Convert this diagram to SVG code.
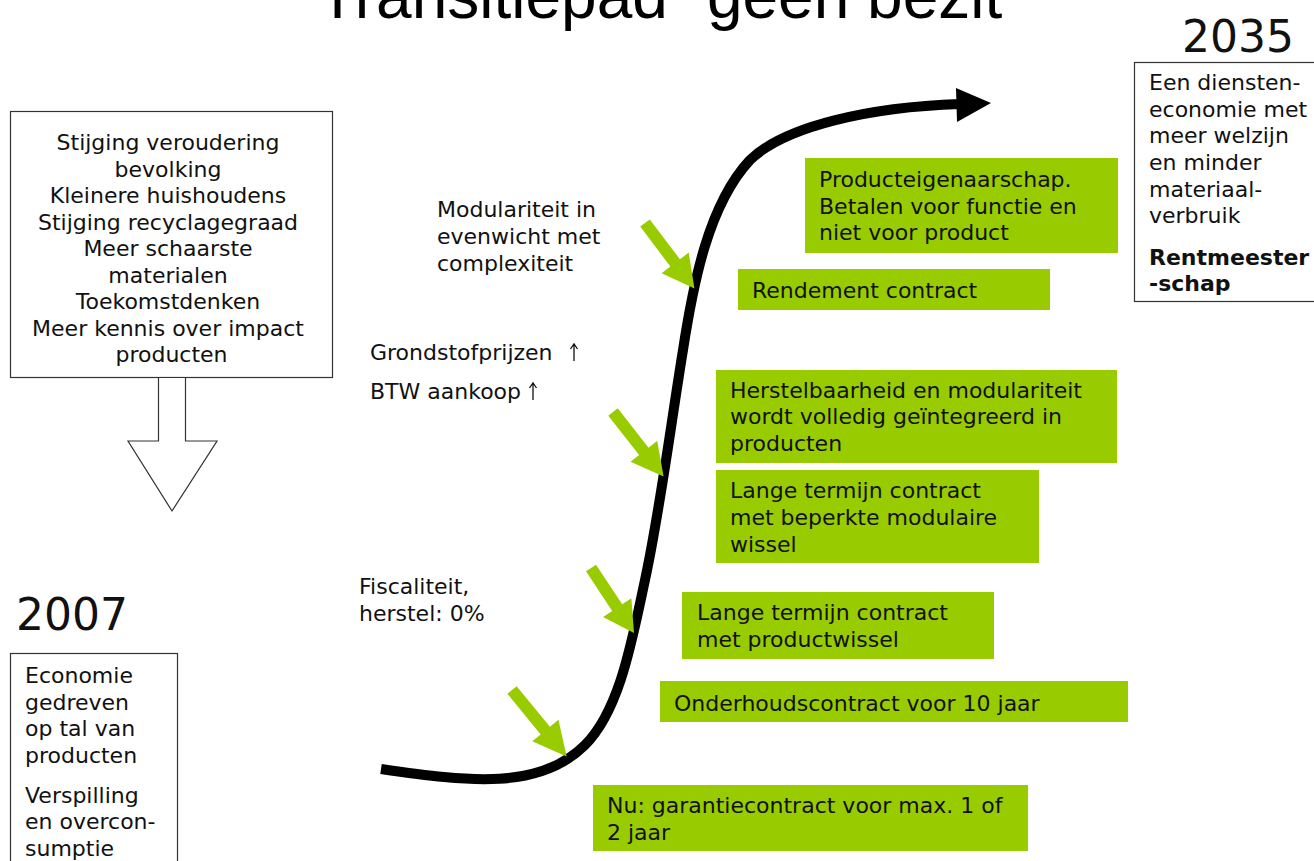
<svg xmlns="http://www.w3.org/2000/svg" width="1314" height="861" viewBox="0 0 1314 861">
  <style>
    .t { font-family: "DejaVu Sans", Verdana, sans-serif; font-size: 22px; fill: #111; }
    .c { text-anchor: middle; }
    .b { font-weight: bold; }
    .year { font-family: "DejaVu Sans", Verdana, sans-serif; font-size: 44px; fill: #111; }
    .title { font-family: "Liberation Sans", Arial, sans-serif; font-size: 64px; fill: #000; }
    .frame { fill: #fff; stroke: #333; stroke-width: 1.2; }
    .green { fill: #99cc00; }
    .up { fill: none; stroke: #111; stroke-width: 1.3; }
  </style>
  <defs>
    <!-- thick green pointer, drawn along +x, tip at x=82 -->
    <path id="pointer" d="M0,-6 L50,-6 L50,-17 L82,0 L50,17 L50,6 L0,6 Z" fill="#99cc00"/>
    <!-- small "rising" arrow after a lever text -->
    <path id="rise" d="M0,0 V-17 M-3.5,-12 L0,-17 L3.5,-12"/>
  </defs>

  <rect width="1314" height="861" fill="#fff"/>

  <text class="title" x="318" y="18">Transitiepad “geen bezit”</text>

  <!-- drivers box with hollow down arrow -->
  <g id="drivers">
    <rect class="frame" x="10.5" y="111.5" width="322" height="266"/>
    <polygon class="frame" points="158.5,377.5 185.5,377.5 185.5,441 217,441 172,511 128,441 158.5,441"/>
    <text class="t c">
      <tspan x="171.5" y="150">Stijging veroudering</tspan>
      <tspan x="171.5" y="176.5">bevolking</tspan>
      <tspan x="171.5" y="203">Kleinere huishoudens</tspan>
      <tspan x="171.5" y="229.5">Stijging recyclagegraad</tspan>
      <tspan x="171.5" y="256">Meer schaarste</tspan>
      <tspan x="171.5" y="282.5">materialen</tspan>
      <tspan x="171.5" y="309">Toekomstdenken</tspan>
      <tspan x="171.5" y="335.5">Meer kennis over impact</tspan>
      <tspan x="171.5" y="362">producten</tspan>
    </text>
  </g>

  <!-- start situation -->
  <g id="start2007">
    <text class="year" x="16" y="630">2007</text>
    <rect class="frame" x="10.5" y="653.5" width="167" height="220"/>
    <text class="t">
      <tspan x="25" y="683">Economie</tspan>
      <tspan x="25" y="710">gedreven</tspan>
      <tspan x="25" y="736">op tal van</tspan>
      <tspan x="25" y="763">producten</tspan>
      <tspan x="25" y="803">Verspilling</tspan>
      <tspan x="25" y="829">en overcon-</tspan>
      <tspan x="25" y="856">sumptie</tspan>
    </text>
  </g>

  <!-- end situation -->
  <g id="end2035">
    <text class="year" x="1182" y="52">2035</text>
    <rect class="frame" x="1134.5" y="62.5" width="200" height="239"/>
    <text class="t">
      <tspan x="1149" y="90">Een diensten-</tspan>
      <tspan x="1149" y="117">economie met</tspan>
      <tspan x="1149" y="143">meer welzijn</tspan>
      <tspan x="1149" y="170">en minder</tspan>
      <tspan x="1149" y="197">materiaal-</tspan>
      <tspan x="1149" y="223">verbruik</tspan>
      <tspan class="b" x="1149" y="265">Rentmeester</tspan>
      <tspan class="b" x="1149" y="291">-schap</tspan>
    </text>
  </g>

  <!-- levers along the path -->
  <g id="lever-modulariteit">
    <text class="t">
      <tspan x="437" y="217">Modulariteit in</tspan>
      <tspan x="437" y="244">evenwicht met</tspan>
      <tspan x="437" y="271">complexiteit</tspan>
    </text>
  </g>
  <g id="lever-prijzen">
    <text class="t" x="370" y="360">Grondstofprijzen</text>
    <use href="#rise" class="up" transform="translate(574,361)"/>
    <text class="t" x="370" y="399">BTW aankoop</text>
    <use href="#rise" class="up" transform="translate(533,400)"/>
  </g>
  <g id="lever-fiscaliteit">
    <text class="t">
      <tspan x="359" y="594">Fiscaliteit,</tspan>
      <tspan x="359" y="621">herstel: 0%</tspan>
    </text>
  </g>

  <!-- contract stages -->
  <g id="stage-eigenaarschap">
    <rect class="green" x="805" y="158" width="313" height="95"/>
    <text class="t">
      <tspan x="819" y="187">Producteigenaarschap.</tspan>
      <tspan x="819" y="214">Betalen voor functie en</tspan>
      <tspan x="819" y="240">niet voor product</tspan>
    </text>
  </g>
  <g id="stage-rendement">
    <rect class="green" x="738" y="269" width="312" height="41"/>
    <text class="t" x="752" y="298">Rendement contract</text>
  </g>
  <g id="stage-herstelbaarheid">
    <rect class="green" x="716" y="370" width="401" height="93"/>
    <text class="t">
      <tspan x="730" y="398">Herstelbaarheid en modulariteit</tspan>
      <tspan x="730" y="424">wordt volledig geïntegreerd in</tspan>
      <tspan x="730" y="451">producten</tspan>
    </text>
  </g>
  <g id="stage-modulaire-wissel">
    <rect class="green" x="716" y="470" width="323" height="93"/>
    <text class="t">
      <tspan x="730" y="498">Lange termijn contract</tspan>
      <tspan x="730" y="525">met beperkte modulaire</tspan>
      <tspan x="730" y="552">wissel</tspan>
    </text>
  </g>
  <g id="stage-productwissel">
    <rect class="green" x="682" y="592" width="312" height="67"/>
    <text class="t">
      <tspan x="697" y="620">Lange termijn contract</tspan>
      <tspan x="697" y="647">met productwissel</tspan>
    </text>
  </g>
  <g id="stage-onderhoud">
    <rect class="green" x="660" y="681" width="468" height="41"/>
    <text class="t" x="674" y="711">Onderhoudscontract voor 10 jaar</text>
  </g>
  <g id="stage-garantie">
    <rect class="green" x="593" y="785" width="435" height="66"/>
    <text class="t">
      <tspan x="607" y="813">Nu: garantiecontract voor max. 1 of</tspan>
      <tspan x="607" y="840">2 jaar</tspan>
    </text>
  </g>

  <g id="connectors">
    <!-- transition curve -->
    <path d="M381,769 C470,782 540,790 585,745 C620,710 632,640 645,580 C660,510 670,430 683,350 C693,285 708,205 750,160 C785,126 870,107 960,104"
          fill="none" stroke="#000" stroke-width="10"/>
    <polygon points="956,88 991,103 957,122" fill="#000"/>

    <!-- lever pointers -->
    <use href="#pointer" transform="translate(645,223) rotate(52.9)"/>
    <use href="#pointer" transform="translate(613,412) rotate(51.9)"/>
    <use href="#pointer" transform="translate(591,568) rotate(56.5) scale(0.95,1)"/>
    <use href="#pointer" transform="translate(512,690) rotate(50.6) scale(1.05,1)"/>
  </g>
</svg>
